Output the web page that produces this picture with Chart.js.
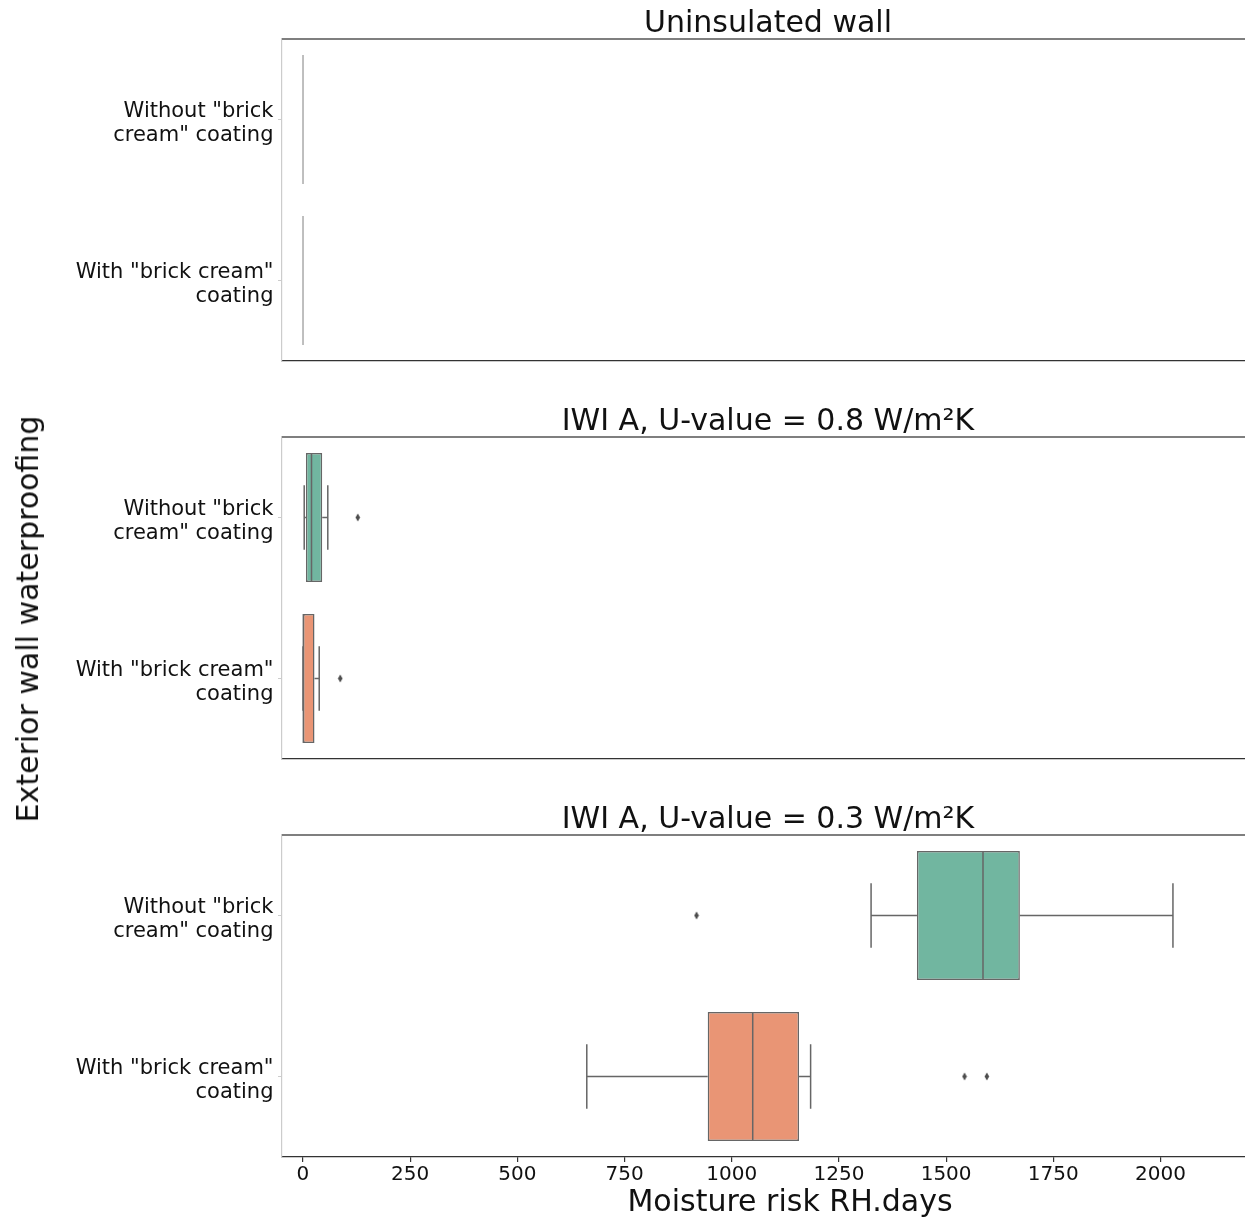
<!DOCTYPE html>
<html>
<head>
<meta charset="utf-8">
<script src="https://cdn.jsdelivr.net/npm/chart.js@4.4.1/dist/chart.umd.min.js"></script>
<style>
  body { margin: 0; background: #fff; }
  #fig { position: relative; width: 1245px; height: 1218px; overflow: hidden; background: #fff;
         font-family: 'DejaVu Sans', sans-serif; color: #111; }
  #fig canvas { position: absolute; left: 0; }
  .title { position: absolute; left: 282px; width: 972px; text-align: center;
           font-size: 30px; line-height: 30px; white-space: nowrap; }
  #xlabel { position: absolute; left: 790px; top: 1186px; transform: translateX(-50%);
            font-size: 30px; line-height: 30px; white-space: nowrap; }
  #ylabel { position: absolute; left: 28px; top: 619px; transform: translate(-50%, -50%) rotate(-90deg);
            font-size: 30px; line-height: 30px; white-space: nowrap; }
</style>
</head>
<body>
<div id="fig">
  <canvas id="p0" width="1254" height="332" style="top:34px"></canvas>
  <canvas id="p1" width="1254" height="332" style="top:432px"></canvas>
  <canvas id="p2" width="1254" height="367" style="top:830px"></canvas>
  <div class="title" style="top:7px">Uninsulated wall</div>
  <div class="title" style="top:405px">IWI A, U-value = 0.8 W/m²K</div>
  <div class="title" style="top:803px">IWI A, U-value = 0.3 W/m²K</div>
  <div id="xlabel">Moisture risk RH.days</div>
  <div id="ylabel">Exterior wall waterproofing</div>
</div>
<script>
// categories on the y axis (two-line labels)
const categories = [
  ['Without "brick', 'cream" coating'],
  ['With "brick cream"', 'coating']
];
const xTicks = [0, 250, 500, 750, 1000, 1250, 1500, 1750, 2000];

// box statistics per panel: [without coating, with coating]
// panels: uninsulated, IWI A 0.8, IWI A 0.3
const whiskerLow  = [[0, 0], [3, 0],   [1325, 662]];
const quartile1   = [[0, 0], [7, 0],   [1432, 944]];
const medians     = [[0, 0], [20, 1],  [1586, 1049]];
const quartile3   = [[0, 0], [45, 27], [1672, 1157]];
const whiskerHigh = [[0, 0], [58, 38], [2029, 1184]];
const outliers    = [[[], []], [[128], [87]], [[918], [1543, 1595]]];

const boxColors = ['#71b6a0', '#e99575'];
const lineGrey = '#666';

// thin diamond marker for the fliers
const diamond = document.createElement('canvas');
diamond.width = 6; diamond.height = 9;
(function () {
  const c = diamond.getContext('2d');
  c.fillStyle = '#4d4d4d';
  c.beginPath();
  c.moveTo(3, 0.5); c.lineTo(5.3, 4.5); c.lineTo(3, 8.5); c.lineTo(0.7, 4.5);
  c.closePath(); c.fill();
})();

// whiskers, caps, medians and the top spine
const boxWhiskers = {
  id: 'boxWhiskers',
  afterDatasetsDraw(chart, args, opts) {
    const {ctx, chartArea, scales: {x, y}} = chart;
    const p = opts.panel;
    const step = y.getPixelForValue(1) - y.getPixelForValue(0);
    const box = step * 0.4, cap = step * 0.2;
    const px = v => x.getPixelForValue(v);
    ctx.save();
    ctx.lineWidth = 1.5;
    categories.forEach((c, i) => {
      const yc = y.getPixelForValue(i);
      if (quartile1[p][i] === quartile3[p][i]) {
        // collapsed box: only its outline shows
        ctx.strokeStyle = '#aaa';
        ctx.beginPath();
        ctx.moveTo(px(quartile1[p][i]), yc - box);
        ctx.lineTo(px(quartile1[p][i]), yc + box);
        ctx.stroke();
        return;
      }
      const lo = px(whiskerLow[p][i]), hi = px(whiskerHigh[p][i]);
      ctx.strokeStyle = lineGrey;
      ctx.beginPath();
      ctx.moveTo(lo, yc); ctx.lineTo(px(quartile1[p][i]), yc);
      ctx.moveTo(px(quartile3[p][i]), yc); ctx.lineTo(hi, yc);
      ctx.moveTo(lo, yc - cap); ctx.lineTo(lo, yc + cap);
      ctx.moveTo(hi, yc - cap); ctx.lineTo(hi, yc + cap);
      const m = px(medians[p][i]);
      ctx.moveTo(m, yc - box); ctx.lineTo(m, yc + box);
      ctx.stroke();
    });
    ctx.strokeStyle = '#555';
    ctx.lineWidth = 1.3;
    ctx.beginPath();
    ctx.moveTo(chartArea.left, chartArea.top);
    ctx.lineTo(chartArea.right, chartArea.top);
    ctx.stroke();
    ctx.restore();
  }
};

function makePanel(p, showTicks) {
  const flierPoints = [];
  categories.forEach((c, i) => outliers[p][i].forEach(v => flierPoints.push({x: v, y: c})));

  return new Chart(document.getElementById('p' + p), {
    type: 'bar',
    data: {
      labels: categories,
      datasets: [{
        data: categories.map((c, i) => [quartile1[p][i], quartile3[p][i]]),
        backgroundColor: boxColors,
        borderColor: lineGrey,
        borderWidth: 1.5,
        borderSkipped: false,
        barPercentage: 0.8,
        categoryPercentage: 1
      }, {
        type: 'scatter',
        data: flierPoints,
        pointStyle: diamond,
        pointRadius: 4,
        backgroundColor: '#4d4d4d',
        borderWidth: 0
      }]
    },
    options: {
      indexAxis: 'y',
      responsive: false,
      animation: false,
      events: [],
      layout: { padding: { top: 5, left: 0, right: 0, bottom: 0 } },
      plugins: {
        legend: { display: false },
        tooltip: { enabled: false },
        boxWhiskers: { panel: p }
      },
      scales: {
        x: {
          type: 'linear',
          min: -48.8,
          max: 2208.7,
          afterBuildTicks: s => { s.ticks = xTicks.map(v => ({value: v})); },
          afterFit: s => {
            s.height = showTicks ? 40 : 5;
            s.paddingLeft = 0; s.paddingRight = 0;
          },
          border: { display: true, color: '#333', width: 1.3 },
          grid: { display: showTicks, drawOnChartArea: false, drawTicks: true, tickLength: 5, color: '#333', lineWidth: 1.2 },
          ticks: {
            display: showTicks, padding: 1, color: '#111',
            font: { family: 'DejaVu Sans', size: 20 },
            callback: v => String(v)
          }
        },
        y: {
          type: 'category',
          offset: true,
          afterFit: s => {
            s.width = 282;
            s.paddingTop = 0; s.paddingBottom = 0;
          },
          border: { display: true, color: '#ccc', width: 1.2 },
          grid: { offset: false, drawOnChartArea: false, drawTicks: true, tickLength: 4, color: '#ccc' },
          ticks: {
            padding: 4.5, labelOffset: 4, color: '#111',
            font: { family: 'DejaVu Sans', size: 21, lineHeight: 1.15 }
          }
        }
      }
    },
    plugins: [boxWhiskers]
  });
}

makePanel(0, false);
makePanel(1, false);
makePanel(2, true);
</script>
</body>
</html>
